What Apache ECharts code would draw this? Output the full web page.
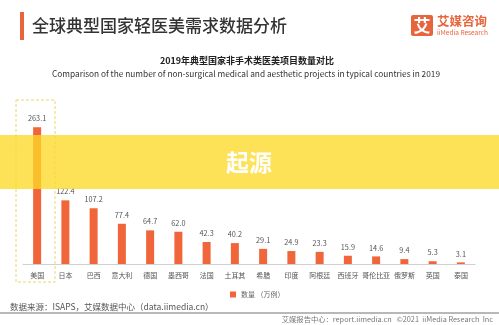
<!DOCTYPE html>
<html><head><meta charset="utf-8">
<script src="https://cdn.jsdelivr.net/npm/echarts@6/dist/echarts.min.js"></script>
<style>html,body{margin:0;padding:0;background:#fff}#c{width:499px;height:325px}</style>
</head><body><div id="c"></div>
<script>
const categories = ['美国','日本','巴西','意大利','德国','墨西哥','法国','土耳其','希腊','印度','阿根廷','西班牙','哥伦比亚','俄罗斯','英国','泰国'];
const counts = [263.1,122.4,107.2,77.4,64.7,62.0,42.3,40.2,29.1,24.9,23.3,15.9,14.6,9.4,5.3,3.1];
const seriesName = '数量';

const F = '"Noto Sans CJK SC","Noto Sans",sans-serif';
const chart = echarts.init(document.getElementById('c'), null, {renderer:'canvas'});
chart.setOption({
  backgroundColor:'#fff',
  animation:false,
  textStyle:{fontFamily:F},
  grid:{left:23, right:24, top:108, bottom:61},
  xAxis:{type:'category', data:categories,
    axisLine:{lineStyle:{color:'#d0d0d0', width:1}}, axisTick:{show:false},
    axisLabel:{fontSize:7, color:'#555', margin:8, interval:0, fontFamily:F}},
  yAxis:{type:'value', min:0, max:300, show:false, splitLine:{show:false}},
  legend:{left:225, top:286, itemWidth:6, itemHeight:6, itemGap:4, icon:'rect',
    textStyle:{fontSize:7, color:'#666', fontFamily:F},
    formatter: n => n + ' （万例）', data:[seriesName]},
  series:[{name:seriesName, type:'bar', data:counts, barWidth:8,
    itemStyle:{color:'#F0653A'},
    label:{show:true, position:'top', distance:5, fontSize:7.3, color:'#555', fontFamily:F,
      formatter: p => p.value.toFixed(1)}}],
  graphic:[
    {type:'rect', shape:{x:20,y:12,width:4,height:28}, style:{fill:'#E8643C'}},
    {type:'text', style:{x:32, y:26, text:'全球典型国家轻医美需求数据分析', fill:'#333', font:'500 17px '+F, textVerticalAlign:'middle'}},
    {type:'rect', shape:{x:411,y:15,width:22,height:21,r:2}, style:{fill:'#E8643C'}},
    {type:'text', style:{x:422, y:25.5, text:'艾', fill:'#fff', font:'bold 17px '+F, textAlign:'center', textVerticalAlign:'middle'}},
    {type:'text', style:{x:437, y:21, text:'艾媒咨询', fill:'#E8643C', font:'bold 12.5px '+F, textVerticalAlign:'middle'}},
    {type:'text', style:{x:437, y:33, text:'iiMedia Research', fill:'#E8643C', font:'6.5px '+F, textVerticalAlign:'middle'}},
    {type:'text', style:{x:247, y:61, text:'2019年典型国家非手术类医美项目数量对比', fill:'#222', font:'bold 9px '+F, textAlign:'center', textVerticalAlign:'middle'}},
    {type:'text', style:{x:246, y:74, text:'Comparison of the number of non-surgical medical and aesthetic projects in typical countries in 2019', fill:'#333', font:'8.3px '+F, textAlign:'center', textVerticalAlign:'middle'}},
    {type:'rect', z:50, shape:{x:16,y:100,width:39,height:182}, style:{fill:'none', stroke:'#EDD56A', lineWidth:1, lineDash:[3,2]}},
    {type:'text', style:{x:10, y:307, text:'数据来源：ISAPS，艾媒数据中心（data.iimedia.cn）', fill:'#555', font:'8.5px '+F, textVerticalAlign:'middle'}},
    {type:'rect', shape:{x:0,y:312,width:499,height:2}, style:{fill:'#B8B8B8'}},
    {type:'text', style:{x:493, y:319, text:'艾媒报告中心：report.iimedia.cn   ©2021  iiMedia Research  Inc', fill:'#777', font:'7.3px '+F, textAlign:'right', textVerticalAlign:'middle'}},
    {type:'rect', z:100, shape:{x:0,y:135,width:499,height:54}, style:{fill:'rgba(252,216,40,0.78)'}},
    {type:'text', z:101, style:{x:249, y:162.5, text:'起源', fill:'#fff', font:'bold 23px '+F, textAlign:'center', textVerticalAlign:'middle'}}
  ]
});
</script></body></html>
